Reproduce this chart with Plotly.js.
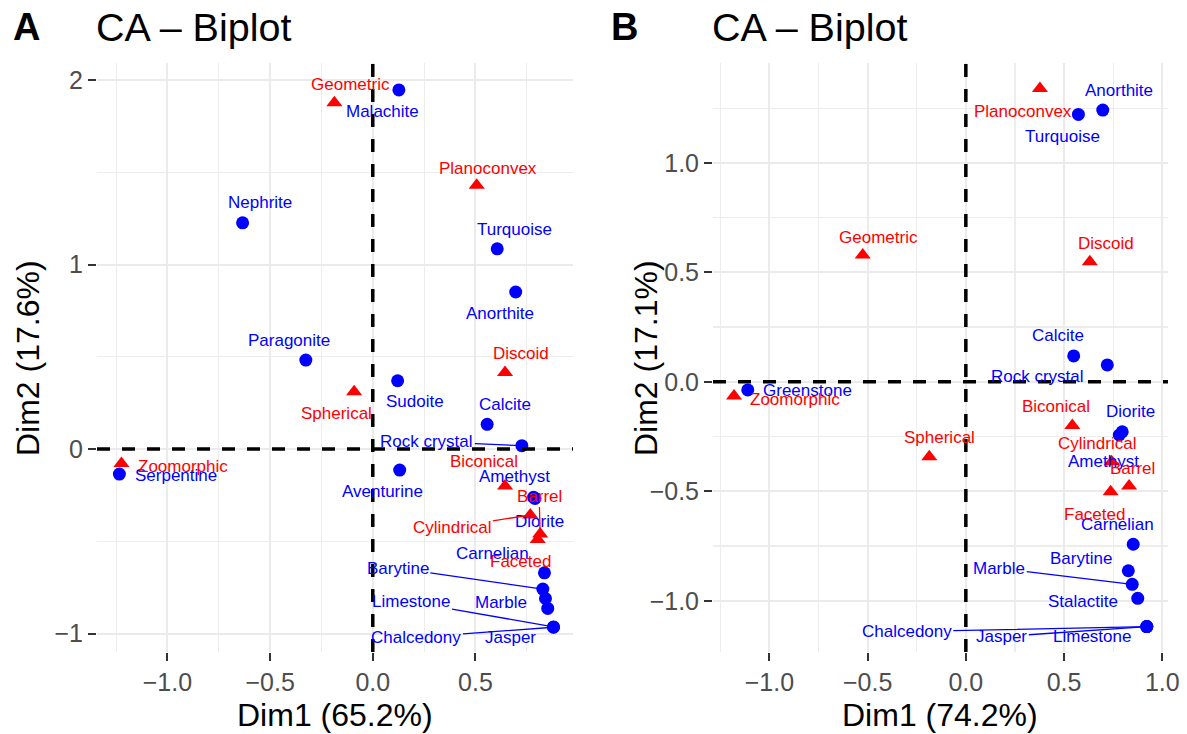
<!DOCTYPE html>
<html><head><meta charset="utf-8">
<script src="https://cdn.plot.ly/plotly-3.0.1.min.js"></script>
<style>body{margin:0;background:#fff}#chart{width:1187px;height:734px}</style>
</head><body><div id="chart"></div>
<script>
// ---------------- Panel A data ----------------
const rowNamesA = ['Malachite','Nephrite','Turquoise','Anorthite','Paragonite','Sudoite','Calcite','Rock crystal','Aventurine','Serpentine','Amethyst','Diorite','Carnelian','Barytine','Marble','Jasper','Limestone','Chalcedony'];
const rowXA = [0.127,-0.634,0.606,0.696,-0.326,0.121,0.557,0.726,0.131,-1.234,0.783,0.790,0.836,0.828,0.841,0.852,0.880,0.880];
const rowYA = [1.946,1.226,1.085,0.851,0.482,0.370,0.134,0.018,-0.114,-0.136,-0.262,-0.268,-0.671,-0.759,-0.810,-0.864,-0.964,-0.966];
const colNamesA = ['Geometric','Planoconvex','Discoid','Spherical','Zoomorphic','Biconical','Cylindrical','Barrel','Faceted'];
const colXA = [-0.187,0.506,0.644,-0.091,-1.224,0.644,0.767,0.815,0.803];
const colYA = [1.877,1.429,0.415,0.310,-0.078,-0.200,-0.358,-0.461,-0.490];
const xTickValsA = [-1.0,-0.5,0.0,0.5];
const xTickTextA = ['\u22121.0','\u22120.5','0.0','0.5'];
const yTickValsA = [-1,0,1,2];
const yTickTextA = ['\u22121','0','1','2'];
const axisTitlesA = ['Dim1 (65.2%)','Dim2 (17.6%)'];

// ---------------- Panel B data ----------------
const rowNamesB = ['Anorthite','Turquoise','Calcite','Rock crystal','Greenstone','Diorite','Amethyst','Carnelian','Barytine','Marble','Stalactite','Limestone','Jasper','Chalcedony'];
const rowXB = [0.697,0.573,0.549,0.720,-1.110,0.796,0.781,0.852,0.827,0.847,0.875,0.921,0.921,0.921];
const rowYB = [1.241,1.221,0.118,0.077,-0.037,-0.228,-0.243,-0.742,-0.863,-0.925,-0.989,-1.118,-1.118,-1.118];
const colNamesB = ['Planoconvex','Geometric','Discoid','Zoomorphic','Spherical','Biconical','Cylindrical','Barrel','Faceted'];
const colXB = [0.377,-0.525,0.631,-1.180,-0.186,0.542,0.742,0.831,0.737];
const colYB = [1.340,0.579,0.548,-0.065,-0.342,-0.200,-0.365,-0.476,-0.502];
const xTickValsB = [-1.0,-0.5,0.0,0.5,1.0];
const xTickTextB = ['\u22121.0','\u22120.5','0.0','0.5','1.0'];
const yTickValsB = [-1.0,-0.5,0.0,0.5,1.0];
const yTickTextB = ['\u22121.0','\u22120.5','0.0','0.5','1.0'];
const axisTitlesB = ['Dim1 (74.2%)','Dim2 (17.1%)'];

const panelTags = ['A','B'];
const panelTitle = 'CA \u2013 Biplot';

// ---------------- label placement (pixel offsets, repel-like) ----------------
// [dx, dy (down positive), drawSegment]
const placeA = {
  'Malachite':[-16,22],'Nephrite':[17,-20],'Turquoise':[17,-19],'Anorthite':[-16,22],
  'Paragonite':[-17,-20],'Sudoite':[17,21],'Calcite':[18,-20],'Rock crystal':[-95,-4,1],
  'Aventurine':[-17,21],'Serpentine':[57,1],'Amethyst':[-19,-21],'Diorite':[4,23],
  'Carnelian':[-52,-19],'Barytine':[-145,-21,1],'Marble':[-44,4],'Jasper':[-37,29],
  'Limestone':[-142,-25,1],'Chalcedony':[-137,10,1],
  'Geometric':[16,-18],'Planoconvex':[11,-17],'Discoid':[16,-19],'Spherical':[-18,22],
  'Zoomorphic':[62,3],'Biconical':[-21,-24],'Cylindrical':[-78,12,1],'Barrel':[-1,-38,1],'Faceted':[-17,22]
};
const placeB = {
  'Planoconvex':[-17,23],'Anorthite':[16,-20],'Turquoise':[-16,22],'Geometric':[16,-18],
  'Discoid':[16,-18],'Calcite':[-16,-20],'Rock crystal':[-70,12],'Greenstone':[60,1],
  'Zoomorphic':[61,3],'Spherical':[10,-19],'Biconical':[-16,-19],'Diorite':[8,-20],
  'Amethyst':[-16,26],'Cylindrical':[-15,-18],'Barrel':[3,-18],'Faceted':[-16,23],
  'Carnelian':[-16,-20],'Barytine':[-47,-12],'Marble':[-133,-16,1],'Stalactite':[-55,3],
  'Limestone':[-55,10],'Jasper':[-145,10,1],'Chalcedony':[-240,5,1]
};

// ---------------- geometry ----------------
const W = 1187, H = 734;
const M = {l:97, r:19, t:63, b:82};
const PW = W - M.l - M.r, PH = H - M.t - M.b;
const px2x = p => (p - M.l) / PW;
const py2y = p => (H - M.b - p) / PH;

const BLUE = '#0000FF', RED = '#FF0000';
const FONT = 'Liberation Sans, Arial, Helvetica, sans-serif';
const LABEL_SIZE = 17;

function traces(rx, ry, rn, cx, cy, cn, xa, ya) {
  return [
    {type:'scatter', mode:'markers', x:rx, y:ry, text:rn, xaxis:xa, yaxis:ya,
     marker:{symbol:'circle', size:13, color:BLUE}, hoverinfo:'text', showlegend:false},
    {type:'scatter', mode:'markers', x:cx, y:cy, text:cn, xaxis:xa, yaxis:ya,
     marker:{symbol:'triangle-up', size:14, color:RED}, hoverinfo:'text', showlegend:false}
  ];
}

function labels(names, xs, ys, color, place, xref, yref) {
  return names.map((n, i) => {
    const p = place[n] || [0,-18];
    const base = {x:xs[i], y:ys[i], xref, yref, text:n,
      font:{family:FONT, size:LABEL_SIZE, color}};
    if (p[2]) {
      return Object.assign(base, {showarrow:true, ax:p[0], ay:p[1], arrowhead:0,
        arrowwidth:1.3, arrowcolor:color, standoff:0, startstandoff:0});
    }
    return Object.assign(base, {showarrow:false, xshift:p[0], yshift:-p[1],
      xanchor:'center', yanchor:'middle'});
  });
}

function axisStyle(extra) {
  return Object.assign({
    showgrid:true, gridcolor:'#EBEBEB', gridwidth:2,
    zeroline:false, showline:false,
    ticks:'outside', ticklen:8, tickwidth:2, tickcolor:'#333333',
    tickfont:{family:FONT, size:25, color:'#4D4D4D'},
    tickmode:'array', fixedrange:true
  }, extra);
}

const data = [].concat(
  traces(rowXA, rowYA, rowNamesA, colXA, colYA, colNamesA, 'x', 'y'),
  traces(rowXB, rowYB, rowNamesB, colXB, colYB, colNamesB, 'x2', 'y2')
);

const dash = {color:'#000000', width:3.5, dash:'13px,12px'};
const shapes = [
  {type:'line', xref:'x', yref:'y domain', x0:0, x1:0, y0:0, y1:1, line:dash, layer:'above'},
  {type:'line', xref:'x domain', yref:'y', x0:0, x1:1, y0:0, y1:0, line:dash, layer:'above'},
  {type:'line', xref:'x2', yref:'y2 domain', x0:0, x1:0, y0:0, y1:1, line:dash, layer:'above'},
  {type:'line', xref:'x2 domain', yref:'y2', x0:0, x1:1, y0:0, y1:0, line:dash, layer:'above'}
];

const domA = [0, px2x(573)];
const domB = [px2x(713), 1];

const MINOR = {tickmode:'linear', tick0:0, showgrid:true, gridcolor:'#EDEDED', gridwidth:1.2, ticks:''};

const textAnn = [
  {xref:'paper', yref:'paper', x:px2x(11), y:py2y(27), xanchor:'left', yanchor:'middle',
   text:'<b>'+panelTags[0]+'</b>', showarrow:false, font:{family:FONT, size:38, color:'#000'}},
  {xref:'paper', yref:'paper', x:px2x(94), y:py2y(27), xanchor:'left', yanchor:'middle',
   text:panelTitle, showarrow:false, font:{family:FONT, size:39.5, color:'#000'}},
  {xref:'paper', yref:'paper', x:px2x(609), y:py2y(27), xanchor:'left', yanchor:'middle',
   text:'<b>'+panelTags[1]+'</b>', showarrow:false, font:{family:FONT, size:38, color:'#000'}},
  {xref:'paper', yref:'paper', x:px2x(710), y:py2y(27), xanchor:'left', yanchor:'middle',
   text:panelTitle, showarrow:false, font:{family:FONT, size:39.5, color:'#000'}},
  {xref:'paper', yref:'paper', x:px2x(335), y:py2y(715), xanchor:'center', yanchor:'middle',
   text:axisTitlesA[0], showarrow:false, font:{family:FONT, size:32, color:'#000'}},
  {xref:'paper', yref:'paper', x:px2x(940), y:py2y(715), xanchor:'center', yanchor:'middle',
   text:axisTitlesB[0], showarrow:false, font:{family:FONT, size:32, color:'#000'}},
  {xref:'paper', yref:'paper', x:px2x(28), y:py2y(358), xanchor:'center', yanchor:'middle', textangle:-90,
   text:axisTitlesA[1], showarrow:false, font:{family:FONT, size:32, color:'#000'}},
  {xref:'paper', yref:'paper', x:px2x(646), y:py2y(358), xanchor:'center', yanchor:'middle', textangle:-90,
   text:axisTitlesB[1], showarrow:false, font:{family:FONT, size:32, color:'#000'}}
];

const annotations = [].concat(
  labels(rowNamesA, rowXA, rowYA, BLUE, placeA, 'x', 'y'),
  labels(colNamesA, colXA, colYA, RED, placeA, 'x', 'y'),
  labels(rowNamesB, rowXB, rowYB, BLUE, placeB, 'x2', 'y2'),
  labels(colNamesB, colXB, colYB, RED, placeB, 'x2', 'y2'),
  textAnn
);

const layout = {
  width:W, height:H, margin:M, paper_bgcolor:'#fff', plot_bgcolor:'#fff',
  showlegend:false, hovermode:'closest',
  xaxis: axisStyle({domain:domA, range:[-1.343,0.975], tickvals:xTickValsA, ticktext:xTickTextA, anchor:'y',
    minor:Object.assign({dtick:0.25}, MINOR)}),
  yaxis: axisStyle({domain:[0,1], range:[-1.100,2.092], tickvals:yTickValsA, ticktext:yTickTextA, anchor:'x',
    minor:Object.assign({dtick:0.5}, MINOR)}),
  xaxis2: axisStyle({domain:domB, range:[-1.287,1.029], tickvals:xTickValsB, ticktext:xTickTextB, anchor:'y2',
    minor:Object.assign({dtick:0.25}, MINOR)}),
  yaxis2: axisStyle({domain:[0,1], range:[-1.234,1.456], tickvals:yTickValsB, ticktext:yTickTextB, anchor:'x2',
    minor:Object.assign({dtick:0.25}, MINOR)}),
  shapes, annotations
};

Plotly.newPlot('chart', data, layout, {displayModeBar:false, staticPlot:true});
</script>
</body></html>
